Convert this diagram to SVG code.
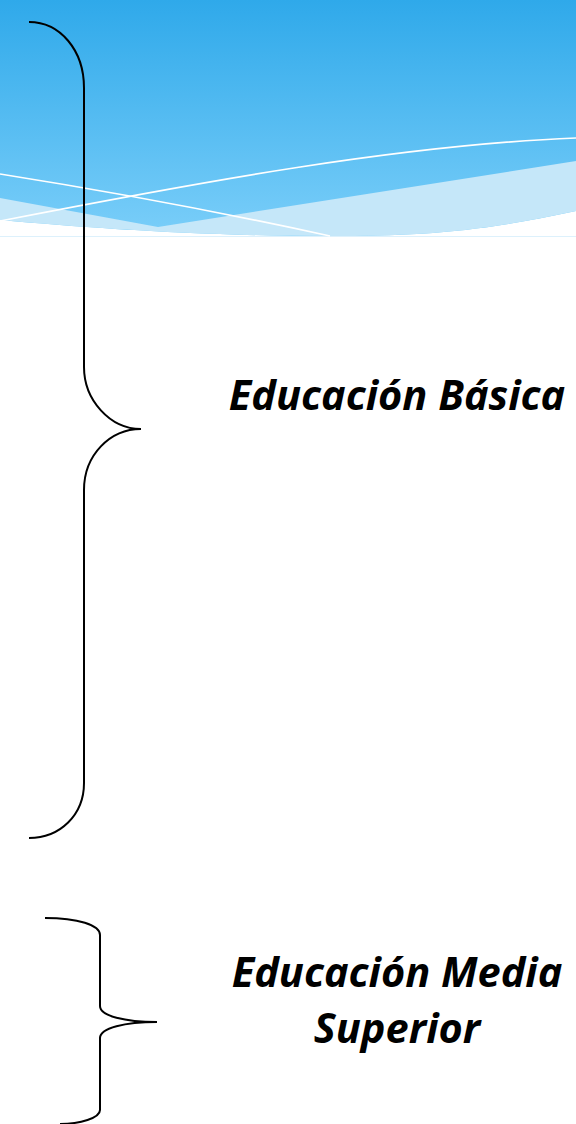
<svg xmlns="http://www.w3.org/2000/svg" width="576" height="1124" viewBox="0 0 576 1124">
<defs>
<linearGradient id="sky" x1="0" y1="0" x2="0" y2="1">
<stop offset="0" stop-color="#2FA9EA"/>
<stop offset="1" stop-color="#7ACEF9"/>
</linearGradient>
<style>
.brace{fill:none;stroke:#000;stroke-width:2}
.lbl{font-family:"Open Sans",Lato,sans-serif;font-weight:bold;font-style:italic;font-size:41.5px;fill:#000;text-anchor:middle}
.wl{fill:none;stroke:#fff;stroke-width:1.6}
</style>
</defs>
<rect width="576" height="1124" fill="#fff"/>
<g id="header">
<path d="M0,0 H576 V211 C480,232 420,236 330,236 C200,236 90,228 0,220 Z" fill="url(#sky)"/>
<path d="M0,198 L158,227 L576,161 V211 C480,232 420,236 330,236 C200,236 90,228 0,220 Z" fill="#C5E7F9"/>
<path d="M0,236.5 H576" stroke="#DDF1FC" stroke-width="1"/>
<path class="wl" d="M0,174 Q170,201 330,236"/>
<path class="wl" d="M0,221 C200,182 400,145 576,138"/>
</g>
<g id="connectors">
<path class="brace" d="M29,22 C60,22 84,50 84,88 V367 C84,400 110,429 141,429 C110,429 84,455 84,490 V783 C84,815 60,838 29,838"/>
<path class="brace" d="M45,918 C78,918 100,925 100,935 V1006 C100,1016 125,1022 157,1022 C125,1022 100,1028 100,1038 V1110 C100,1118 80,1124 60,1124"/>
</g>
<g id="basica">
<text class="lbl" x="397" y="410">Educación Básica</text>
</g>
<g id="media">
<text class="lbl" x="397" y="987">Educación Media</text>
<text class="lbl" x="397" y="1043">Superior</text>
</g>
</svg>
